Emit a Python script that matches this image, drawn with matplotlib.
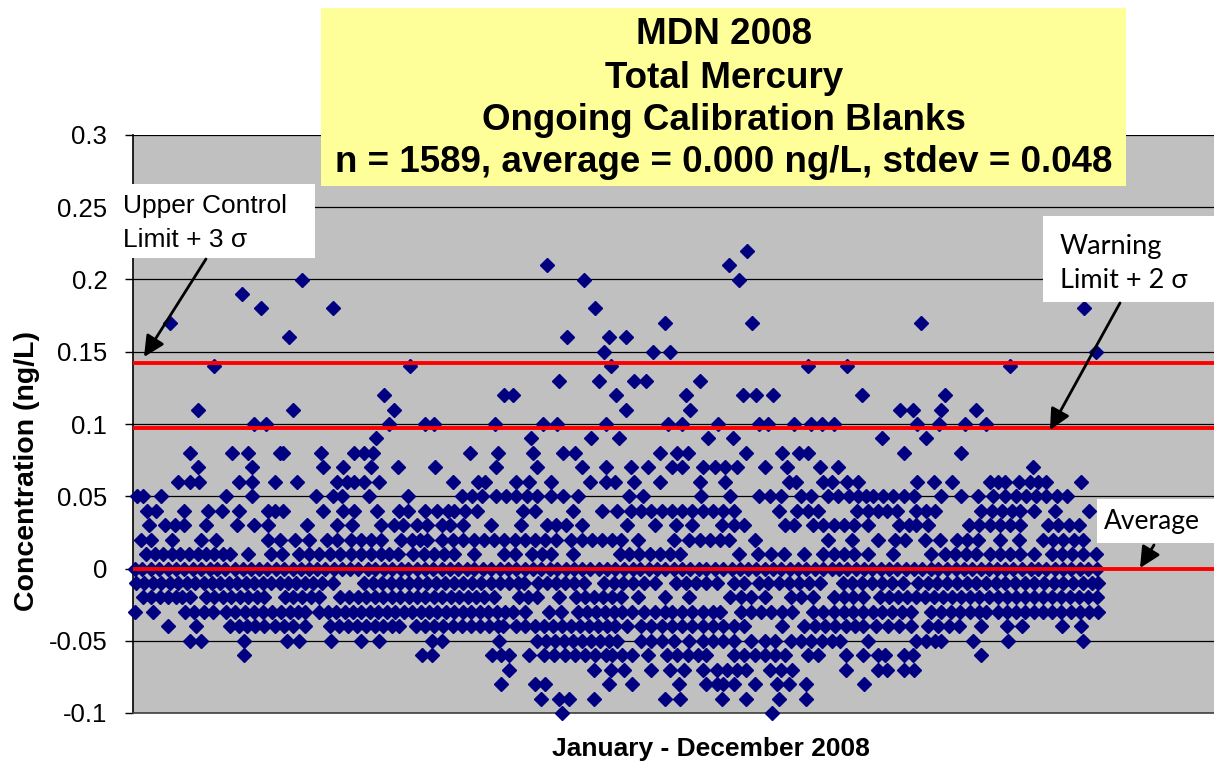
import numpy as np
import matplotlib
matplotlib.use('Agg')
import matplotlib.pyplot as plt
from matplotlib.patches import Rectangle, FancyArrowPatch
from matplotlib import font_manager as fm

# sample number (sequence in 2008) of every visible result, grouped by
# concentration level in ng/L
at_022 = [1016]
at_021 = [684, 985]
at_020 = [278, 745, 1002]
at_019 = [177]
at_018 = [209, 328, 764, 1575]
at_017 = [58, 880, 1023, 1304]
at_016 = [256, 717, 787, 815]
at_015 = [779, 860, 888, 1595]
at_014 = [131, 456, 790, 1116, 1181, 1452]
at_013 = [703, 770, 828, 848, 938]
at_012 = [414, 612, 627, 798, 915, 1008, 1031, 1059, 1206, 1344]
at_011 = [104, 263, 430, 814, 921, 1270, 1290, 1337, 1396]
at_010 = [198, 217, 421, 482, 496, 597, 677, 701, 781, 885, 908, 968, 1036,
          1051, 1093, 1122, 1139, 1159, 1298, 1334, 1377, 1411]
at_009 = [400, 657, 756, 803, 951, 992, 1240, 1313]
at_008 = [92, 162, 188, 241, 246, 309, 363, 380, 395, 556, 603, 661, 711, 730,
          871, 900, 917, 1014, 1073, 1102, 1116, 1276, 1370]
at_007 = [104, 195, 312, 346, 392, 437, 498, 599, 667, 741, 782, 823, 851, 891,
          908, 942, 962, 979, 999, 1045, 1082, 1136, 1167, 1489]
at_006 = [71, 92, 107, 172, 195, 233, 269, 335, 352, 363, 380, 405, 527, 570,
          581, 633, 653, 690, 755, 782, 797, 828, 871, 937, 979, 1085, 1096,
          1142, 1156, 1182, 1199, 1298, 1326, 1355, 1418, 1432, 1444, 1467,
          1484, 1498, 1512, 1569]
at_005 = [4, 13, 44, 152, 195, 300, 329, 343, 389, 453, 542, 559, 576, 599,
          616, 633, 650, 667, 690, 710, 735, 820, 843, 939, 988, 1036, 1053,
          1071, 1105, 1122, 1150, 1167, 1185, 1199, 1212, 1224, 1241, 1258,
          1276, 1293, 1338, 1370, 1398, 1424, 1444, 1461, 1478, 1495, 1512,
          1529, 1546]
at_004 = [21, 35, 81, 121, 144, 172, 221, 232, 246, 312, 346, 363, 401, 439,
          453, 482, 502, 519, 530, 547, 567, 644, 664, 727, 775, 799, 823, 840,
          857, 874, 891, 908, 925, 942, 959, 976, 994, 1068, 1099, 1116, 1133,
          1198, 1216, 1233, 1247, 1264, 1296, 1313, 1327, 1404, 1421, 1438,
          1455, 1469, 1492, 1526, 1583]
at_003 = [24, 50, 67, 81, 118, 169, 198, 221, 286, 335, 360, 409, 430, 445,
          468, 485, 510, 522, 544, 590, 641, 684, 698, 715, 741, 817, 863, 897,
          925, 974, 994, 1011, 1079, 1093, 1125, 1142, 1159, 1176, 1193, 1216,
          1267, 1284, 1296, 1316, 1384, 1401, 1418, 1435, 1452, 1469, 1515,
          1532, 1549, 1566]
at_002 = [10, 27, 61, 110, 135, 221, 241, 266, 289, 318, 335, 358, 375, 392,
          409, 442, 459, 473, 485, 510, 527, 544, 562, 579, 596, 613, 630, 647,
          664, 681, 698, 724, 741, 758, 775, 792, 806, 834, 894, 920, 937, 954,
          971, 985, 1028, 1150, 1190, 1233, 1261, 1278, 1310, 1335, 1364, 1381,
          1398, 1435, 1466, 1506, 1523, 1540, 1557, 1572]
at_001 = [18, 33, 47, 61, 75, 90, 104, 118, 132, 147, 158, 187, 226, 244, 272,
          289, 306, 323, 340, 358, 375, 392, 409, 422, 436, 462, 479, 496, 513,
          530, 562, 613, 630, 658, 676, 690, 727, 804, 820, 837, 854, 871, 888,
          905, 1002, 1034, 1056, 1076, 1110, 1142, 1159, 1176, 1193, 1216,
          1258, 1321, 1344, 1361, 1378, 1395, 1418, 1435, 1452, 1469, 1492,
          1521, 1538, 1555, 1572, 1595]
at_000 = [0, 12, 27, 40, 55, 69, 81, 96, 110, 124, 137, 150, 166, 179, 193,
          206, 219, 234, 247, 262, 275, 289, 302, 315, 330, 344, 357, 371, 386,
          398, 413, 426, 441, 453, 468, 481, 494, 509, 522, 536, 551, 563, 578,
          590, 605, 619, 632, 647, 660, 673, 688, 701, 716, 728, 742, 755, 770,
          784, 797, 811, 826, 838, 853, 866, 879, 894, 907, 921, 936, 948, 963,
          976, 990, 1004, 1017, 1031, 1046, 1058, 1072, 1087, 1100, 1113, 1128,
          1141, 1156, 1168, 1182, 1197, 1210, 1223, 1238, 1251, 1265, 1279,
          1292, 1306, 1321, 1333, 1347, 1362, 1375, 1388, 1403, 1416, 1430,
          1444, 1457, 1471, 1486, 1498, 1512, 1527, 1540, 1553, 1568, 1581, 1596]
at_m01 = [2, 16, 30, 44, 58, 72, 86, 100, 114, 128, 142, 156, 170, 184, 198,
          212, 226, 240, 254, 268, 282, 296, 310, 329, 380, 395, 410, 425, 440,
          455, 470, 485, 500, 515, 530, 545, 560, 575, 590, 605, 620, 635, 645,
          668, 683, 698, 713, 728, 745, 779, 794, 810, 827, 845, 862, 898, 914,
          931, 948, 965, 994, 1011, 1035, 1051, 1068, 1085, 1102, 1119, 1136,
          1174, 1190, 1206, 1222, 1239, 1256, 1274, 1299, 1315, 1331, 1347,
          1363, 1380, 1396, 1412, 1428, 1444, 1460, 1476, 1492, 1508, 1524,
          1540, 1556, 1572, 1588, 1598]
at_m02 = [13, 27, 41, 55, 69, 78, 92, 118, 132, 146, 160, 174, 188, 202, 215,
          249, 263, 278, 292, 306, 340, 355, 370, 384, 398, 412, 426, 440, 454,
          468, 482, 496, 510, 524, 538, 552, 566, 580, 596, 638, 652, 667, 704,
          731, 746, 761, 776, 791, 806, 834, 880, 920, 988, 1005, 1022, 1045,
          1088, 1105, 1125, 1159, 1176, 1192, 1207, 1236, 1251, 1266, 1281,
          1296, 1311, 1326, 1341, 1356, 1371, 1386, 1401, 1416, 1431, 1446,
          1461, 1476, 1491, 1506, 1521, 1536, 1551, 1566, 1581, 1596]
at_m03 = [1, 30, 84, 99, 114, 130, 152, 167, 182, 197, 212, 227, 242, 257,
          270, 283, 306, 320, 334, 348, 362, 376, 390, 404, 418, 432, 446, 460,
          474, 488, 502, 516, 530, 544, 558, 572, 586, 600, 614, 628, 648, 687,
          707, 735, 750, 765, 780, 795, 808, 825, 845, 862, 880, 891, 908, 925,
          942, 959, 971, 1005, 1022, 1039, 1056, 1073, 1090, 1125, 1142, 1159,
          1176, 1192, 1208, 1224, 1240, 1256, 1272, 1288, 1321, 1337, 1353,
          1369, 1385, 1400, 1412, 1432, 1447, 1462, 1477, 1492, 1507, 1522,
          1537, 1552, 1567, 1582, 1597]
at_m04 = [55, 101, 158, 172, 186, 200, 215, 232, 247, 262, 283, 323, 338, 353,
          368, 383, 398, 412, 426, 439, 467, 482, 497, 512, 527, 542, 557, 572,
          587, 602, 610, 633, 648, 663, 678, 693, 708, 723, 738, 753, 768, 783,
          797, 817, 840, 857, 874, 891, 908, 925, 942, 959, 976, 994, 1011,
          1073, 1110, 1128, 1145, 1162, 1179, 1194, 1207, 1230, 1250, 1267,
          1287, 1316, 1333, 1350, 1367, 1404, 1447, 1472, 1538, 1569]
at_m05 = [92, 110, 181, 252, 272, 326, 375, 405, 493, 510, 604, 667, 682, 697,
          712, 727, 742, 757, 772, 787, 800, 840, 857, 874, 894, 920, 942, 959,
          976, 994, 1022, 1045, 1062, 1088, 1105, 1122, 1139, 1156, 1170, 1216,
          1296, 1313, 1327, 1338, 1390, 1449, 1572]
at_m06 = [181, 476, 493, 593, 607, 621, 653, 678, 696, 713, 730, 747, 764, 781,
          791, 808, 825, 851, 882, 900, 917, 934, 948, 994, 1011, 1028, 1045,
          1062, 1079, 1116, 1133, 1180, 1207, 1233, 1244, 1276, 1290, 1404]
at_m07 = [621, 761, 790, 811, 857, 888, 911, 942, 965, 982, 999, 1014, 1053,
          1071, 1090, 1180, 1233, 1247, 1276, 1293]
at_m08 = [608, 664, 681, 786, 825, 902, 948, 965, 976, 994, 1028, 1065, 1085,
          1113, 1210]
at_m09 = [673, 704, 721, 761, 880, 905, 974, 1014, 1068, 1113]
at_m10 = [708, 1057]

levels = [0.22, 0.21, 0.20, 0.19, 0.18, 0.17, 0.16, 0.15, 0.14, 0.13, 0.12,
          0.11, 0.10, 0.09, 0.08, 0.07, 0.06, 0.05, 0.04, 0.03, 0.02, 0.01,
          0.0, -0.01, -0.02, -0.03, -0.04, -0.05, -0.06, -0.07, -0.08, -0.09,
          -0.10]
samples = [at_022, at_021, at_020, at_019, at_018, at_017, at_016, at_015,
           at_014, at_013, at_012, at_011, at_010, at_009, at_008, at_007,
           at_006, at_005, at_004, at_003, at_002, at_001, at_000, at_m01,
           at_m02, at_m03, at_m04, at_m05, at_m06, at_m07, at_m08, at_m09,
           at_m10]

average = 0.0
warning_limit = 0.0975
control_limit = 0.1425

title_lines = ['MDN 2008', 'Total Mercury', 'Ongoing Calibration Blanks',
               'n = 1589, average = 0.000 ng/L, stdev = 0.048']

x = np.concatenate([np.asarray(s, float) for s in samples])
y = np.concatenate([np.full(len(s), lv) for s, lv in zip(samples, levels)])
order = np.argsort(x, kind='stable')
x, y = x[order], y[order]

names = {f.name for f in fm.fontManager.ttflist}
calib = 'Lato' if 'Lato' in names else 'DejaVu Sans'

W, H = 1214, 766
fig = plt.figure(figsize=(W / 100, H / 100), dpi=100)


def fp(px, py):
    return px / W, 1 - py / H


ax = fig.add_axes([133 / W, 1 - 713 / H, (W - 133) / W, (713 - 135) / H])
ax.set_facecolor('#c0c0c0')
ax.set_xlim(-3, 1790)
ax.set_ylim(-0.1, 0.3)
ax.set_yticks(np.linspace(-0.1, 0.3, 9))
ax.yaxis.set_major_formatter(plt.FuncFormatter(lambda v, p: f'{round(v, 2):g}'))
ax.set_xticks([])
ax.yaxis.grid(True, color='black', lw=0.9)
ax.set_axisbelow(True)
for s in ['top', 'right']:
    ax.spines[s].set_visible(False)
ax.spines['left'].set_linewidth(1.2)
ax.spines['bottom'].set_linewidth(1.2)
ax.spines['bottom'].set_color('#404040')
ax.tick_params(axis='y', direction='out', length=5.5, width=1, pad=13,
               labelsize=18.5)
for lab in ax.get_yticklabels():
    lab.set_fontfamily('Liberation Sans')

ax.plot(x, y, 'D', ms=7.1, color='#000080', ls='none', zorder=3, clip_on=False)
for lv in [control_limit, warning_limit, average]:
    ax.axhline(lv, color='#ff0000', lw=2.8, zorder=4)

fig.text(*fp(711, 749), 'January - December 2008', ha='center', va='center',
         fontsize=19, fontweight='bold', family='Liberation Sans')
fig.text(*fp(27, 471), 'Concentration (ng/L)', ha='center', va='center',
         rotation=90, fontsize=20.5, fontweight='bold', family='Liberation Sans')

# title box
x0, y0 = fp(321, 186)
fig.add_artist(Rectangle((x0, y0), 805 / W, 178 / H, transform=fig.transFigure,
                         facecolor='#ffff99', edgecolor='none', zorder=6))
for line, cy in zip(title_lines, [35, 78, 121, 163]):
    fig.text(*fp(724, cy), line, ha='center', va='center', fontsize=26.5,
             fontweight='bold', family='Liberation Sans', zorder=7)


def note(box, text, tx, ty, family, size, spacing):
    bx0, by0, bx1, by1 = box
    fig.add_artist(Rectangle(fp(bx0, by1), (bx1 - bx0) / W, (by1 - by0) / H,
                             transform=fig.transFigure, facecolor='white',
                             edgecolor='none', zorder=6))
    fig.text(*fp(tx, ty), text, ha='left', va='center',
             fontsize=size, family=family, linespacing=spacing, zorder=7)


def arrow(a, b):
    fig.add_artist(FancyArrowPatch(fp(*a), fp(*b), transform=fig.transFigure,
                                   arrowstyle='-|>,head_length=0.45,head_width=0.22',
                                   mutation_scale=28, lw=2, color='black',
                                   shrinkA=0, shrinkB=0, zorder=8))


note((115, 184, 315, 258), 'Upper Control\nLimit + 3 σ', 123, 223,
     'Liberation Sans', 19, 1.5)
arrow((206, 259), (144, 357))
note((1043, 216, 1214, 302), 'Warning\nLimit + 2 σ', 1060, 264, calib, 19.5, 1.45)
arrow((1120, 303), (1050, 430))
note((1097, 499, 1214, 543), 'Average', 1104, 521, calib, 19, 1.15)
arrow((1154, 545), (1140, 568))

fig.savefig('out.png', dpi=100)
